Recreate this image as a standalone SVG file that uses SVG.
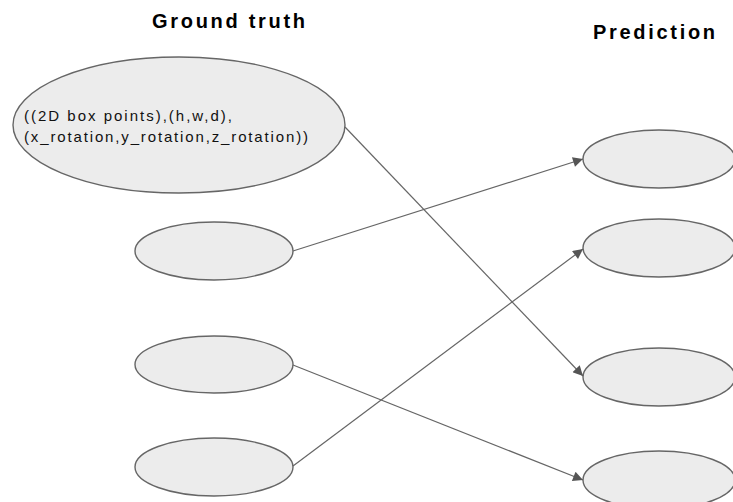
<svg xmlns="http://www.w3.org/2000/svg" width="733" height="502" viewBox="0 0 733 502">
  <style>
    .title { font-family: "Liberation Sans", Arial, sans-serif; font-size: 20px; font-weight: bold; fill: #000; }
    .label { font-family: "Liberation Sans", Arial, sans-serif; font-size: 15px; fill: #111; }
    .node { fill: #ececec; stroke: #666; stroke-width: 1.4; }
    .edge { stroke: #666; stroke-width: 1.2; fill: none; marker-end: url(#arrow); }
  </style>
  <defs>
    <marker id="arrow" viewBox="0 0 10 10" refX="10" refY="5" markerWidth="14" markerHeight="10" markerUnits="userSpaceOnUse" orient="auto">
      <path d="M0,0 L10,5 L0,10 z" fill="#555"/>
    </marker>
  </defs>
  <rect width="733" height="502" fill="#fff"/>

  <text class="title" x="152" y="28" textLength="153" lengthAdjust="spacing">Ground truth</text>
  <text class="title" x="593" y="39" textLength="122" lengthAdjust="spacing">Prediction</text>

  <!-- ground truth column -->
  <g id="gt1">
    <ellipse class="node" cx="179" cy="125" rx="166" ry="68"/>
    <text class="label" x="24" y="121" textLength="208" lengthAdjust="spacing">((2D box points),(h,w,d),</text>
    <text class="label" x="24" y="142" textLength="284" lengthAdjust="spacing">(x_rotation,y_rotation,z_rotation))</text>
  </g>
  <g id="gt2"><ellipse class="node" cx="214" cy="251" rx="79" ry="29"/></g>
  <g id="gt3"><ellipse class="node" cx="214" cy="364.5" rx="79" ry="28.5"/></g>
  <g id="gt4"><ellipse class="node" cx="214" cy="467" rx="79" ry="29"/></g>

  <!-- prediction column -->
  <g id="pr1"><ellipse class="node" cx="659" cy="159" rx="76" ry="29"/></g>
  <g id="pr2"><ellipse class="node" cx="659" cy="248" rx="76" ry="29"/></g>
  <g id="pr3"><ellipse class="node" cx="659" cy="377" rx="76" ry="29"/></g>
  <g id="pr4"><ellipse class="node" cx="659" cy="480" rx="76" ry="29"/></g>

  <g id="connectors">
    <line class="edge" x1="345" y1="127" x2="583" y2="376"/>
    <line class="edge" x1="293" y1="251" x2="583" y2="159"/>
    <line class="edge" x1="293" y1="365" x2="583" y2="480"/>
    <line class="edge" x1="293" y1="466" x2="583" y2="249"/>
  </g>
</svg>
